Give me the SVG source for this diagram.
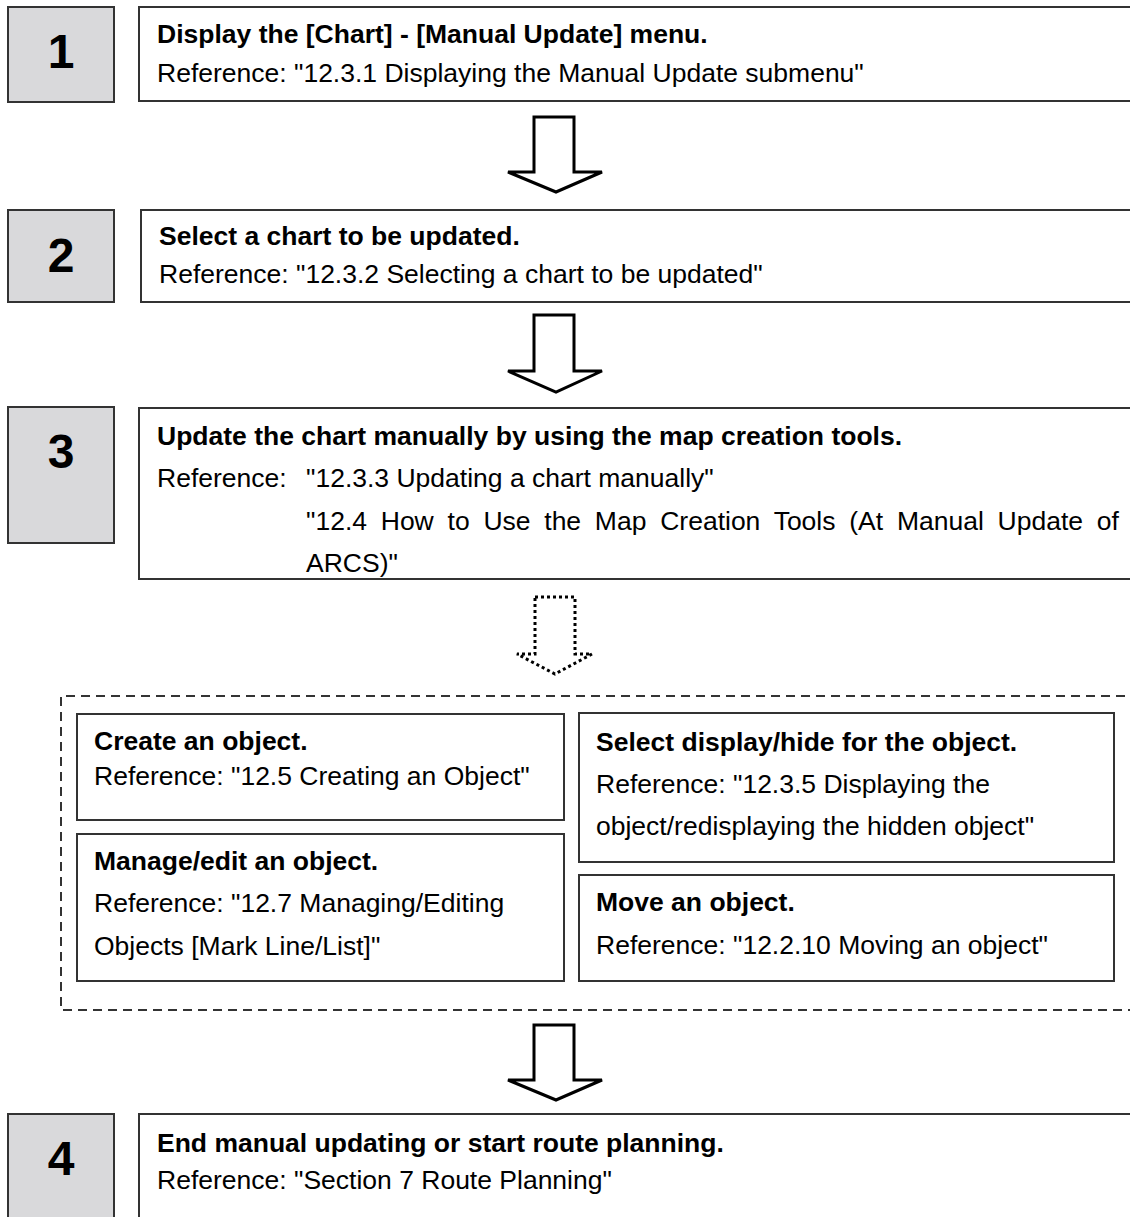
<svg xmlns="http://www.w3.org/2000/svg" width="1130" height="1217" viewBox="0 0 1130 1217">
<style>
.num{fill:#d9d9db;stroke:#333;stroke-width:2}
.box{fill:#fff;stroke:#333;stroke-width:2}
.t{font-family:"Liberation Sans",Arial,sans-serif;font-size:26.5px;fill:#000}
.b{font-weight:bold}
.d{font-family:"Liberation Sans",Arial,sans-serif;font-size:48px;font-weight:bold;text-anchor:middle;fill:#000}
.arr{fill:#fff;stroke:#000;stroke-width:3;stroke-linejoin:miter}
.dot{fill:#fff;stroke:#000;stroke-width:3;stroke-dasharray:3 3}
.dash{fill:none;stroke:#333;stroke-width:2;stroke-dasharray:9 6}
</style>
<rect width="1130" height="1217" fill="#fff"/>
<g id="connectors">
<polygon class="arr" points="534,117 574,117 574,172 602,172 556,192 508,172 534,172"/>
<polygon class="arr" points="534,315 574,315 574,371 602,371 556,392 508,371 534,371"/>
<polygon class="dot" points="535,597 575,597 575,654 592,654 555,674 517,654 535,654"/>
<polygon class="arr" points="534,1025 574,1025 574,1080 602,1080 556,1100 508,1080 534,1080"/>
</g>
<g id="step1">
<rect class="num" x="8" y="7" width="106" height="95"/>
<text class="d" x="61" y="68">1</text>
<rect class="box" x="139" y="7" width="1000" height="94"/>
<text class="t b" x="157" y="43">Display the [Chart] - [Manual Update] menu.</text>
<text class="t" x="157" y="82">Reference: "12.3.1 Displaying the Manual Update submenu"</text>
</g>
<g id="step2">
<rect class="num" x="8" y="210" width="106" height="92"/>
<text class="d" x="61" y="272">2</text>
<rect class="box" x="141" y="210" width="1000" height="92"/>
<text class="t b" x="159" y="245">Select a chart to be updated.</text>
<text class="t" x="159" y="283">Reference: "12.3.2 Selecting a chart to be updated"</text>
</g>
<g id="step3">
<rect class="num" x="8" y="407" width="106" height="136"/>
<text class="d" x="61" y="468">3</text>
<rect class="box" x="139" y="408" width="1000" height="171"/>
<text class="t b" x="157" y="445">Update the chart manually by using the map creation tools.</text>
<text class="t" x="157" y="487">Reference:</text>
<text class="t" x="306" y="487">"12.3.3 Updating a chart manually"</text>
<text class="t" x="306" y="530" word-spacing="6.4">"12.4 How to Use the Map Creation Tools (At Manual Update of</text>
<text class="t" x="306" y="572">ARCS)"</text>
</g>
<g id="group">
<path class="dash" d="M1140,696 H61 V1010 H1140"/>
</g>
<g id="create">
<rect class="box" x="77" y="714" width="487" height="106"/>
<text class="t b" x="94" y="750">Create an object.</text>
<text class="t" x="94" y="785">Reference: "12.5 Creating an Object"</text>
</g>
<g id="manage">
<rect class="box" x="77" y="834" width="487" height="147"/>
<text class="t b" x="94" y="870">Manage/edit an object.</text>
<text class="t" x="94" y="912">Reference: "12.7 Managing/Editing</text>
<text class="t" x="94" y="955">Objects [Mark Line/List]"</text>
</g>
<g id="select">
<rect class="box" x="579" y="713" width="535" height="149"/>
<text class="t b" x="596" y="751">Select display/hide for the object.</text>
<text class="t" x="596" y="793">Reference: "12.3.5 Displaying the</text>
<text class="t" x="596" y="835">object/redisplaying the hidden object"</text>
</g>
<g id="move">
<rect class="box" x="579" y="875" width="535" height="106"/>
<text class="t b" x="596" y="911">Move an object.</text>
<text class="t" x="596" y="954">Reference: "12.2.10 Moving an object"</text>
</g>
<g id="step4">
<rect class="num" x="8" y="1114" width="106" height="120"/>
<text class="d" x="61" y="1175">4</text>
<rect class="box" x="139" y="1114" width="1000" height="120"/>
<text class="t b" x="157" y="1152">End manual updating or start route planning.</text>
<text class="t" x="157" y="1189">Reference: "Section 7 Route Planning"</text>
</g>
</svg>
